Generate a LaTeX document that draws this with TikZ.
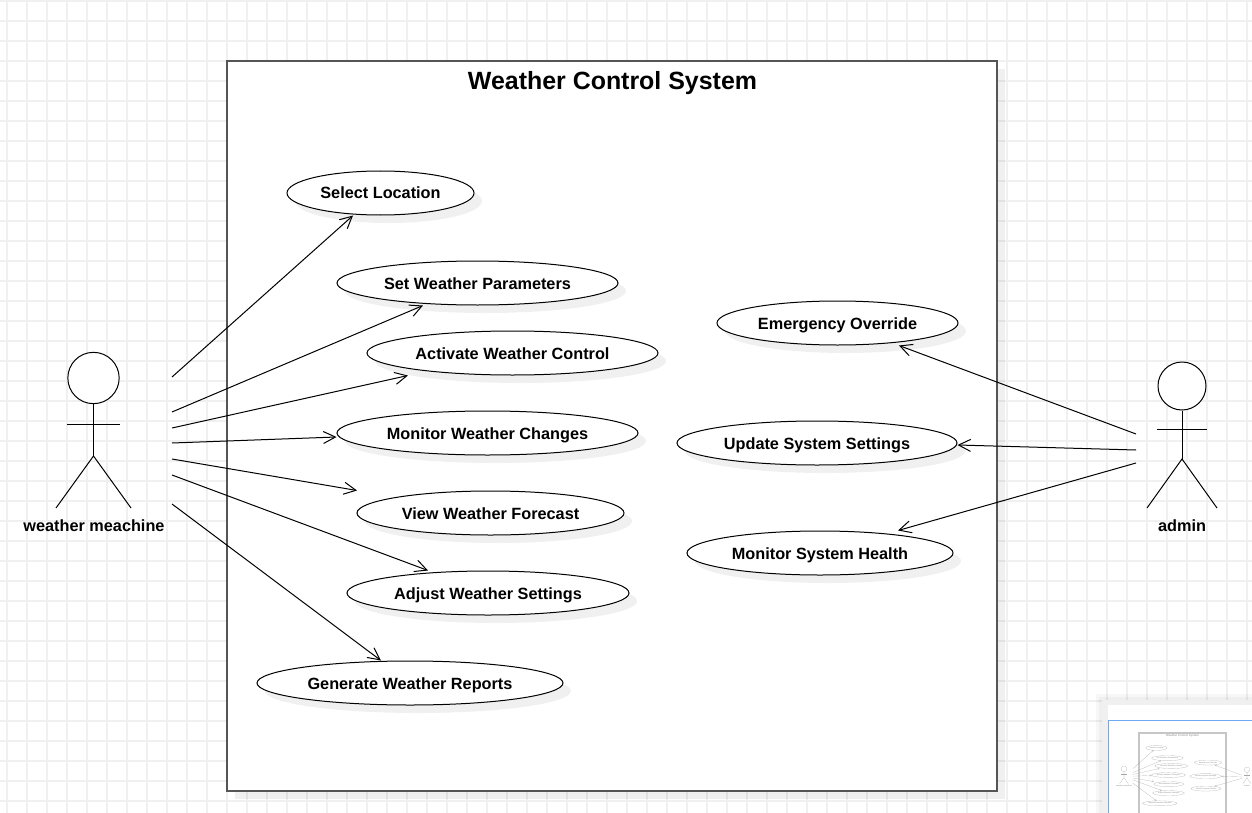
\documentclass[tikz,border=0pt]{standalone}
\usepackage{fontspec}
\setmainfont{Liberation Sans}
\usetikzlibrary{arrows.meta}
\usetikzlibrary{shapes.geometric}
\usetikzlibrary{shadows}

\definecolor{gridgray}{HTML}{F0F0F0}
\definecolor{boxgray}{HTML}{555555}
\definecolor{thumbblue}{HTML}{6EA8F0}

\tikzset{
    sysshadow/.style = {general shadow = {fill = black, opacity = .06, shadow xshift = 6pt, shadow yshift = -6pt}},
    usecase/.style = {ellipse, draw, fill = white, sysshadow, minimum height = 33pt, inner sep = 0pt, text height = 9.5pt, text depth = .5pt, font = \bfseries\fontsize{12.2}{14}\selectfont},
    sysbox/.style = {rectangle, draw = boxgray, line width = 1.5pt, fill = white, sysshadow, minimum width = 577.5pt, minimum height = 547.5pt},
    systitle/.style = {font = \bfseries\fontsize{18.7}{22}\selectfont},
    actorname/.style = {font = \bfseries\fontsize{12.2}{14}\selectfont},
    actorhead/.style = {circle, draw, fill = white, inner sep = 0pt}
}

% the whole system, used for the page and for its thumbnail
\newcommand{\weathersystem}{
    % system boundary
    \node[sysbox] (sys) at (612,426) {};
    \node[systitle] (title) at (612.5,83) {Weather Control System};

    % use cases of the machine
    \node[usecase, minimum width = 140.25pt] (sel) at (380.5,193) {Select Location};
    \node[usecase, minimum width = 210.75pt, below of = sel, node distance = 67.5pt, xshift = 72.75pt] (par) {Set Weather Parameters};
    \node[usecase, minimum width = 218.25pt, below of = par, node distance = 52.5pt, xshift = 26.25pt] (act) {Activate Weather Control};
    \node[usecase, minimum width = 225.75pt, below of = act, node distance = 60pt, xshift = -18.75pt] (mon) {Monitor Weather Changes};
    \node[usecase, minimum width = 200.25pt, below of = mon, node distance = 60pt, xshift = 2.25pt] (vie) {View Weather Forecast};
    \node[usecase, minimum width = 211.5pt, below of = vie, node distance = 60pt, xshift = -1.875pt] (adj) {Adjust Weather Settings};
    \node[usecase, minimum width = 229.5pt, below of = adj, node distance = 67.5pt, xshift = -58.5pt] (gen) {Generate Weather Reports};

    % use cases of the admin
    \node[usecase, minimum width = 180.75pt] (eme) at (837.5,323) {Emergency Override};
    \node[usecase, minimum width = 210pt, below of = eme, node distance = 90pt, xshift = -15.375pt] (upd) {Update System Settings};
    \node[usecase, minimum width = 199.5pt, below of = upd, node distance = 82.5pt, xshift = 2.25pt] (hea) {Monitor System Health};

    % machine actor
    \node[actorhead, minimum size = 38.5pt] (mhead) at (93.5,378) {};
    \coordinate (mhip) at (93.5,456);
    \coordinate (mhandl) at (67,424);
    \coordinate (mhandr) at (120,424);
    \coordinate (mfootl) at (56,508);
    \coordinate (mfootr) at (131,508);
    \draw (mhead) -- (mhip);
    \draw (mhandl) -- (mhandr);
    \draw (mfootl) -- (mhip) -- (mfootr);
    \node[actorname] (machine) at (94,526) {weather meachine};

    % admin actor
    \node[actorhead, minimum size = 36pt] (ahead) at (1182,386) {};
    \coordinate (ahip) at (1182,459);
    \coordinate (ahandl) at (1157,429);
    \coordinate (ahandr) at (1207,429);
    \coordinate (afootl) at (1147,508);
    \coordinate (afootr) at (1217,508);
    \draw (ahead) -- (ahip);
    \draw (ahandl) -- (ahandr);
    \draw (afootl) -- (ahip) -- (afootr);
    \node[actorname] (admin) at (1182,526) {admin};

    % free ends next to the actors
    \coordinate (m1) at (172,377);
    \coordinate (m2) at (172,412);
    \coordinate (m3) at (172,428);
    \coordinate (m4) at (172,443);
    \coordinate (m5) at (172,459);
    \coordinate (m6) at (172,475);
    \coordinate (m7) at (172,504);
    \coordinate (a1) at (1136,434);
    \coordinate (a2) at (1136,450);
    \coordinate (a3) at (1136,463);

    % associations
    \draw[->] (m1) -- ([xshift = -20.6pt]sel.south);
    \draw[->] (m2) -- ([xshift = -40.9pt]par.south);
    \draw[->] (m3) -- ([xshift = -78.4pt]act.south);
    \draw[->] (m4) -- ([yshift = -3pt]mon.west);
    \draw[->] (m5) -- ([xshift = -100.1pt]vie.north);
    \draw[->] (m6) -- ([xshift = -45pt]adj.north);
    \draw[->] (m7) -- ([xshift = -21.8pt]gen.north);
    \draw[->] (a1) -- ([xshift = 46.1pt]eme.south);
    \draw[->] (a2) -- ([yshift = -1.5pt]upd.east);
    \draw[->] (a3) -- ([xshift = 58.5pt]hea.north);
}

\begin{document}
\begin{tikzpicture}[
            x = .75pt,
            y = -.75pt,
            > = {Straight Barb[length = 9pt, width = 9pt]}, % open arrow head
            line width = .75pt
        ]
        \useasboundingbox (0,0) rectangle (1252,813);

        % paper grid
        \foreach \gx in {7,27,...,1247} {
            \draw[gridgray, line width = 1pt] (\gx,0) -- (\gx,813);
        }
        \foreach \gy in {1,21,...,801} {
            \draw[gridgray, line width = 1pt] (0,\gy) -- (1252,\gy);
        }

        \weathersystem

        % thumbnail panel
        \fill[black, opacity = .03] (1096,694) rectangle (1252,813);
        \fill[black, opacity = .03] (1099,697) rectangle (1252,813);
        \fill[gridgray] (1102,700) rectangle (1252,813);
        \fill[white] (1108,705) rectangle (1252,813);
        \draw[thumbblue, line width = .75pt] (1108,720) rectangle (1260,820);

        \begin{scope}[
                name prefix = thumb-,
                shift = {(1113.35,726.1)},
                scale = .113,
                every node/.append style = {transform shape},
                sysshadow/.style = {},
                sysbox/.append style = {line width = 1pt, draw = gray!45},
                color = gray!70,
                line width = .12pt,
                > = {Straight Barb[length = 1.2pt, width = 1.2pt]}
            ]
            \weathersystem
        \end{scope}
\end{tikzpicture}
\end{document}
